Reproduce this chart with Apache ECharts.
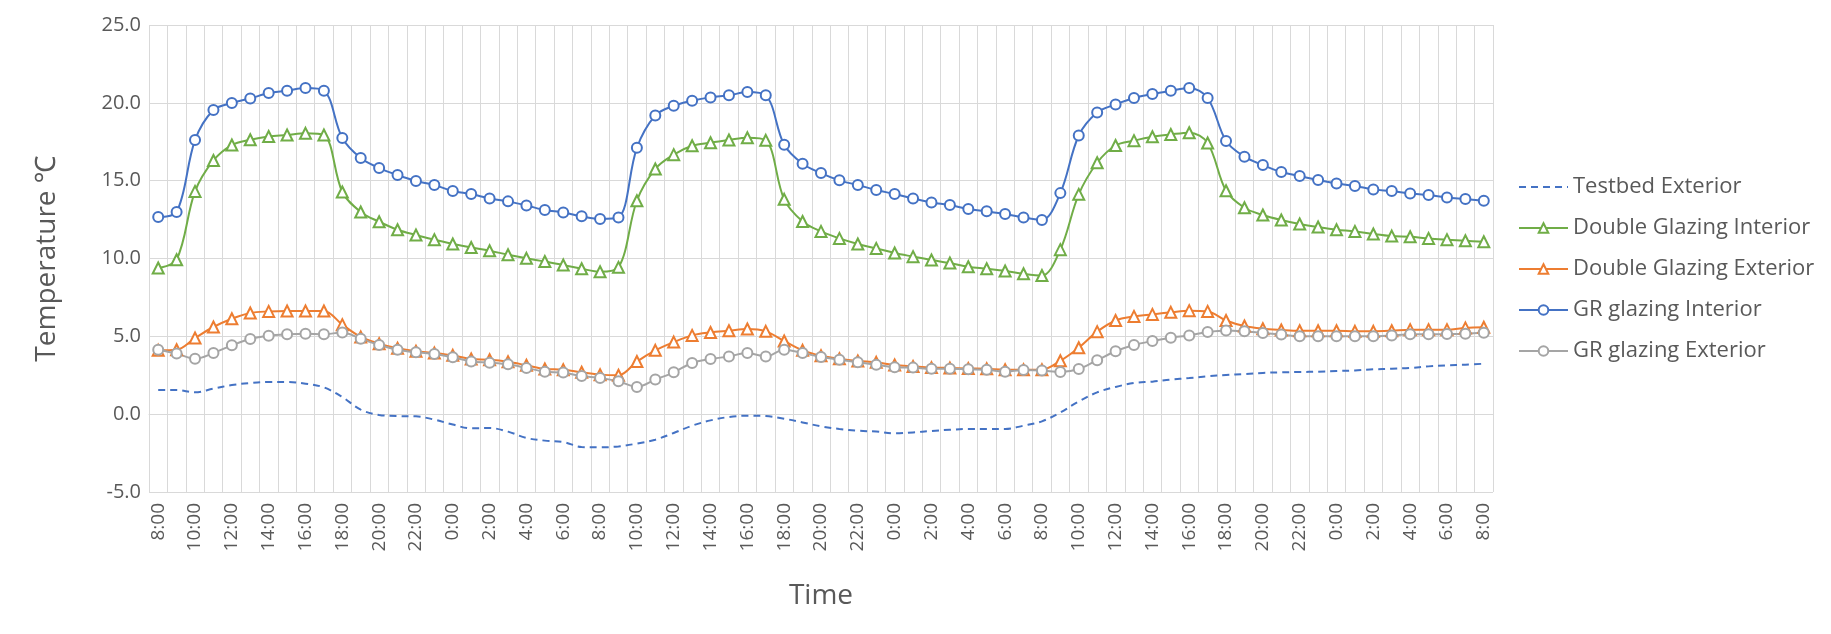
<!DOCTYPE html>
<html>
<head>
<meta charset="utf-8">
<script src="https://cdn.jsdelivr.net/npm/echarts@6/dist/echarts.min.js"></script>
<style>
  html, body { margin: 0; padding: 0; background: #fff; }
  #draw { width: 1831px; height: 634px; }
</style>
</head>
<body>
<div id="draw"></div>
<script>
// hourly readings, 3 days from 8:00 to 8:00
var hours = ['8:00','9:00','10:00','11:00','12:00','13:00','14:00','15:00','16:00','17:00','18:00','19:00',
  '20:00','21:00','22:00','23:00','0:00','1:00','2:00','3:00','4:00','5:00','6:00','7:00',
  '8:00','9:00','10:00','11:00','12:00','13:00','14:00','15:00','16:00','17:00','18:00','19:00',
  '20:00','21:00','22:00','23:00','0:00','1:00','2:00','3:00','4:00','5:00','6:00','7:00',
  '8:00','9:00','10:00','11:00','12:00','13:00','14:00','15:00','16:00','17:00','18:00','19:00',
  '20:00','21:00','22:00','23:00','0:00','1:00','2:00','3:00','4:00','5:00','6:00','7:00','8:00'];

var testbedExterior = [1.55,1.55,1.40,1.64,1.87,2.00,2.07,2.07,1.96,1.72,1.10,0.29,
  -0.05,-0.12,-0.14,-0.35,-0.67,-0.91,-0.89,-1.12,-1.53,-1.70,-1.79,-2.11,
  -2.13,-2.07,-1.89,-1.64,-1.21,-0.74,-0.40,-0.18,-0.10,-0.12,-0.29,-0.53,
  -0.78,-0.95,-1.06,-1.12,-1.23,-1.17,-1.08,-1.00,-0.95,-0.95,-0.95,-0.74,
  -0.46,0.11,0.82,1.40,1.75,2.00,2.09,2.22,2.32,2.43,2.52,2.58,
  2.65,2.69,2.71,2.73,2.77,2.81,2.88,2.92,2.97,3.07,3.14,3.18,3.24];

var dgInterior = [9.39,9.92,14.31,16.30,17.29,17.63,17.84,17.93,18.04,17.93,14.27,12.99,
  12.36,11.85,11.51,11.21,10.93,10.71,10.50,10.24,10.01,9.81,9.58,9.34,
  9.15,9.43,13.71,15.75,16.67,17.24,17.44,17.61,17.76,17.59,13.80,12.38,
  11.74,11.29,10.93,10.65,10.35,10.12,9.90,9.71,9.47,9.34,9.20,9.02,
  8.91,10.57,14.12,16.15,17.26,17.57,17.82,17.97,18.08,17.42,14.35,13.26,
  12.79,12.47,12.22,12.02,11.85,11.74,11.57,11.44,11.40,11.29,11.21,11.14,11.08];

var dgExterior = [4.10,4.14,4.89,5.60,6.13,6.50,6.60,6.63,6.63,6.63,5.75,4.96,
  4.53,4.23,4.04,3.93,3.78,3.54,3.50,3.37,3.14,2.90,2.86,2.69,
  2.54,2.50,3.38,4.10,4.63,5.06,5.25,5.36,5.47,5.32,4.70,4.10,
  3.76,3.56,3.42,3.33,3.16,3.07,2.99,2.97,2.94,2.92,2.86,2.86,
  2.86,3.43,4.27,5.30,6.02,6.28,6.41,6.54,6.65,6.60,6.02,5.66,
  5.49,5.41,5.36,5.36,5.36,5.32,5.32,5.36,5.43,5.43,5.43,5.54,5.58];

var grInterior = [12.66,12.99,17.61,19.54,19.99,20.28,20.63,20.78,20.95,20.78,17.74,16.45,
  15.81,15.36,14.98,14.72,14.34,14.14,13.86,13.67,13.41,13.11,12.96,12.71,
  12.54,12.64,17.11,19.19,19.81,20.13,20.35,20.48,20.69,20.48,17.31,16.09,
  15.49,15.02,14.72,14.40,14.14,13.86,13.60,13.43,13.18,13.03,12.86,12.64,
  12.47,14.20,17.90,19.38,19.90,20.31,20.56,20.78,20.95,20.31,17.55,16.54,
  16.00,15.56,15.30,15.04,14.82,14.66,14.44,14.33,14.18,14.08,13.92,13.82,13.71];

var grExterior = [4.14,3.89,3.56,3.93,4.42,4.83,5.04,5.13,5.17,5.13,5.25,4.85,
  4.44,4.14,3.97,3.87,3.65,3.39,3.31,3.20,2.97,2.73,2.67,2.45,
  2.33,2.11,1.75,2.22,2.69,3.29,3.54,3.71,3.93,3.71,4.14,3.93,
  3.67,3.50,3.33,3.18,3.01,2.99,2.92,2.92,2.88,2.86,2.73,2.84,
  2.81,2.71,2.90,3.47,4.04,4.44,4.70,4.91,5.06,5.28,5.38,5.32,
  5.21,5.11,5.00,5.00,5.00,5.00,5.00,5.06,5.13,5.13,5.15,5.17,5.23];

var seriesNames = ['Testbed Exterior', 'Double Glazing Interior', 'Double Glazing Exterior',
  'GR glazing Interior', 'GR glazing Exterior'];

var font = '"Open Sans", "Noto Sans", sans-serif';
var textColor = '#595959';
var myChart = echarts.init(document.getElementById('draw'));

function lineSeries(name, data, color, symbol, dashed) {
  return {
    name: name,
    type: 'line',
    data: data,
    smooth: 0.35,
    symbol: symbol,
    symbolSize: symbol === 'emptyTriangle' ? 11 : 10,
    showSymbol: symbol !== 'none',
    lineStyle: { color: color, width: 2, type: dashed ? [7, 5] : 'solid' },
    itemStyle: { color: color, borderColor: color, borderWidth: 1.5 },
    emphasis: { disabled: true },
    z: 3
  };
}

// legend entries; the dashed one has no marker
var legendData = seriesNames.map(function (n, i) {
  if (i === 0) {
    return { name: n, itemStyle: { opacity: 0 } };
  }
  return { name: n };
});

var option = {
  animation: false,
  textStyle: { fontFamily: font },
  grid: { left: 149, right: 338, top: 25, bottom: 142 },
  legend: {
    orient: 'vertical',
    left: 1513,
    top: 170,
    itemWidth: 49,
    itemHeight: 12,
    itemGap: 17,
    data: legendData,
    textStyle: { fontSize: 22, color: textColor, lineHeight: 24, fontFamily: font }
  },
  xAxis: {
    type: 'category',
    data: hours,
    boundaryGap: true,
    name: 'Time',
    nameLocation: 'middle',
    nameGap: 90,
    nameTextStyle: { fontSize: 28, color: textColor, fontFamily: font },
    axisLine: { lineStyle: { color: '#D9D9D9', width: 1 } },
    axisTick: { show: false, interval: 0 },
    axisLabel: { interval: 1, rotate: 90, fontSize: 19, color: textColor, margin: 11, fontFamily: font },
    splitLine: { show: true, interval: 0, lineStyle: { color: '#D9D9D9', width: 1 } }
  },
  yAxis: {
    type: 'value',
    min: -5,
    max: 25,
    interval: 5,
    name: 'Temperature ℃',
    nameLocation: 'middle',
    nameGap: 88,
    nameTextStyle: { fontSize: 28, color: textColor, fontFamily: font },
    axisLine: { show: false },
    axisTick: { show: false },
    axisLabel: {
      fontSize: 20, color: textColor, margin: 8, fontFamily: font,
      formatter: function (v) { return v.toFixed(1); }
    },
    splitLine: { lineStyle: { color: '#D9D9D9', width: 1 } }
  },
  series: [
    lineSeries(seriesNames[0], testbedExterior, '#4472C4', 'none', true),
    lineSeries(seriesNames[1], dgInterior, '#70AD47', 'emptyTriangle', false),
    lineSeries(seriesNames[2], dgExterior, '#ED7D31', 'emptyTriangle', false),
    lineSeries(seriesNames[3], grInterior, '#4472C4', 'emptyCircle', false),
    lineSeries(seriesNames[4], grExterior, '#A5A5A5', 'emptyCircle', false)
  ]
};
myChart.setOption(option);
</script>
</body>
</html>
